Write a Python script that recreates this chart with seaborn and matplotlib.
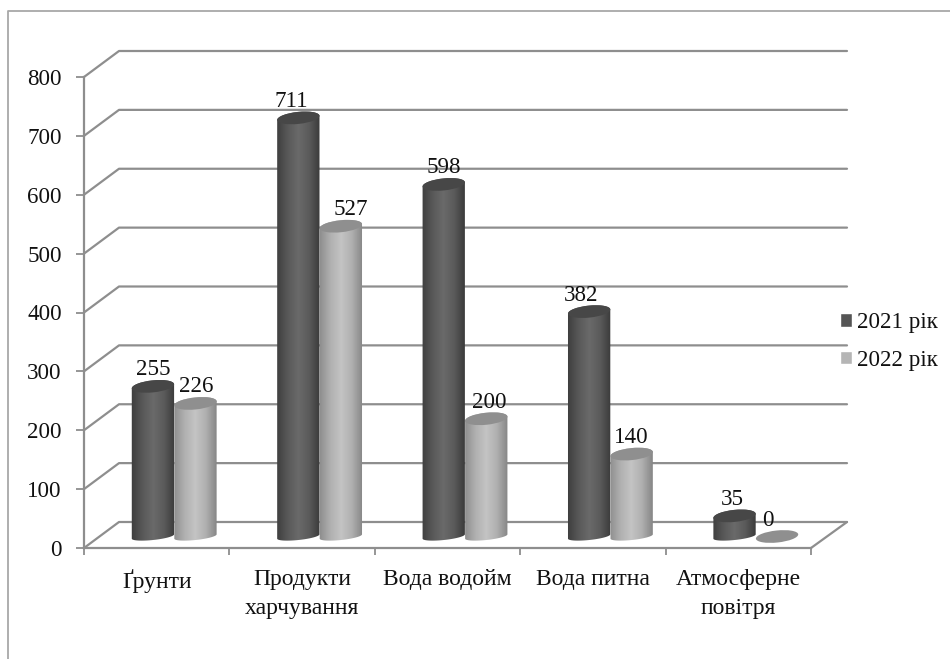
import numpy as np
import pandas as pd
import matplotlib
matplotlib.use("Agg")
import matplotlib.pyplot as plt
import seaborn as sns
from matplotlib.lines import Line2D
from matplotlib.patches import Ellipse
from matplotlib.path import Path
from matplotlib.patches import PathPatch
from matplotlib.transforms import IdentityTransform

categories = ["Ґрунти", "Продукти\nхарчування", "Вода водойм", "Вода питна", "Атмосферне\nповітря"]
values_2021 = [255, 711, 598, 382, 35]
values_2022 = [226, 527, 200, 140, 0]
years = ["2021 рік", "2022 рік"]
y_ticks = [0, 100, 200, 300, 400, 500, 600, 700, 800]

GRID = "#8e8e8e"
TEXT = "#111111"
W, H = 950, 659

sns.set_style("white")
plt.rcParams["font.family"] = ["Liberation Serif", "DejaVu Serif"]

df = pd.DataFrame({
    "cat": categories * 2,
    "year": [years[0]] * 5 + [years[1]] * 5,
    "value": values_2021 + values_2022,
})

fig = plt.figure(figsize=(W / 100, H / 100), dpi=100)
ax = fig.add_axes([84 / W, (H - 548) / H, 727 / W, 471 / H])
ax.patch.set_alpha(0)

sns.barplot(data=df, x="cat", y="value", hue="year", palette=["#555555", "#b5b5b5"],
            width=0.585, gap=0, saturation=1, ax=ax, zorder=1)
ax.set_xlim(-0.5, 4.5)
ax.set_ylim(0, 800)
ax.set_xlabel("")
ax.set_ylabel("")
ax.set_yticks(y_ticks)
ax.set_xticks(range(5))
ax.set_xticklabels(categories, linespacing=1.5)
ax.set_xticks(np.arange(-0.5, 5), minor=True)
ax.tick_params(axis="x", which="major", length=0, labelsize=17, pad=15, labelcolor=TEXT)
ax.tick_params(axis="x", which="minor", length=5, width=1.3, color=GRID, bottom=True)
ax.tick_params(axis="y", length=6, width=1.3, color=GRID, labelsize=16.6, pad=10, labelcolor=TEXT, left=True)
sns.despine(ax=ax)
for side in ["left", "bottom"]:
    ax.spines[side].set_color(GRID)
    ax.spines[side].set_linewidth(1.6)

px = IdentityTransform()


def to_px(x, y):
    return ax.transData.transform((x, y))


# back wall and side wall lines, pushed back by a fixed depth
depth_x, depth_y = 36, 26
for val in y_ticks:
    x0, y0 = to_px(-0.5, val)
    x1, y1 = to_px(4.5, val)
    ax.plot([x0, x0 + depth_x - 1, x1 + depth_x], [y0, y0 + depth_y, y1 + depth_y],
            color=GRID, lw=1.6, transform=px, clip_on=False, zorder=0.5)
x1, y1 = to_px(4.5, 0)
ax.plot([x1, x1 + depth_x], [y1, y1 + depth_y], color=GRID, lw=1.6, transform=px, clip_on=False, zorder=0.5)

# cylinders on top of the seaborn bars
bar_dx, bar_dy = 17.5, 11.5
tilt = np.deg2rad(6)
ramps = [["#3d3d3d", "#585858", "#6a6a6a", "#5a5a5a", "#383838"],
         ["#8c8c8c", "#b0b0b0", "#c4c4c4", "#aeaeae", "#828282"]]
tops = ["#474747", "#8f8f8f"]
# the value labels do not sit centred over the bars in the original
label_nudge = [[0, -7, 0, -8, -2], [1, 10, 3, 0, -9]]


def ellipse_pts(cx, cy, a, b, t):
    return np.column_stack([cx + a * np.cos(t) * np.cos(tilt) - b * np.sin(t) * np.sin(tilt),
                            cy + a * np.cos(t) * np.sin(tilt) + b * np.sin(t) * np.cos(tilt)])


for s, cont in enumerate(ax.containers):
    cmap = matplotlib.colors.LinearSegmentedColormap.from_list("c", ramps[s])
    for i, (bar, val) in enumerate(zip(cont, df["value"][s * 5:s * 5 + 5])):
        bar.set_visible(False)
        left, _ = to_px(bar.get_x(), 0)
        right, base = to_px(bar.get_x() + bar.get_width(), 0)
        _, top = to_px(bar.get_x(), val)
        a = (right - left) / 2
        b = 6
        cx = (left + right) / 2 + bar_dx
        low = base + bar_dy
        high = top + bar_dy
        z = 2 + s
        if val > 0:
            lower = ellipse_pts(cx, low, a, 3.5, np.linspace(np.pi, 2 * np.pi, 40))
            upper = ellipse_pts(cx, high, a, b, np.linspace(0, np.pi, 40))
            outline = np.vstack([lower, upper, lower[:1]])
            clip = PathPatch(Path(outline), transform=px, fc="none", ec="none")
            ax.add_patch(clip)
            im = ax.imshow(np.linspace(0, 1, 64)[None, :], cmap=cmap, aspect="auto", transform=px,
                           extent=[cx - a - 1, cx + a + 1, low - b - 3, high + b + 3], zorder=z)
            im.set_clip_path(clip)
        ax.add_patch(Ellipse((cx, high), 2 * a, 2 * b, angle=np.rad2deg(tilt), fc=tops[s], ec="none",
                             transform=px, clip_on=False, zorder=z + 0.1))
        ax.text(cx + label_nudge[s][i], high + 16.5, str(val), ha="center", va="center", fontsize=16.6,
                color=TEXT, transform=px, clip_on=False, zorder=6)

ax.set_xlim(-0.5, 4.5)
ax.set_ylim(0, 800)

handles, labels = ax.get_legend_handles_labels()
ax.legend(handles, labels, loc="upper left", bbox_to_anchor=(840 / W, 1 - 312 / H),
          bbox_transform=fig.transFigure, frameon=False, fontsize=16.6, labelcolor=TEXT,
          handlelength=0.52, handleheight=0.52, handletextpad=0.22, labelspacing=0.72,
          borderpad=0, borderaxespad=0)

# thin frame of the original picture, only top and left survive
fig.add_artist(Line2D([8 / W, 8 / W, 1], [0, 1 - 11 / H, 1 - 11 / H], color="#a8a8a8", lw=1.3))

fig.savefig("out.png", dpi=100, facecolor="white")
